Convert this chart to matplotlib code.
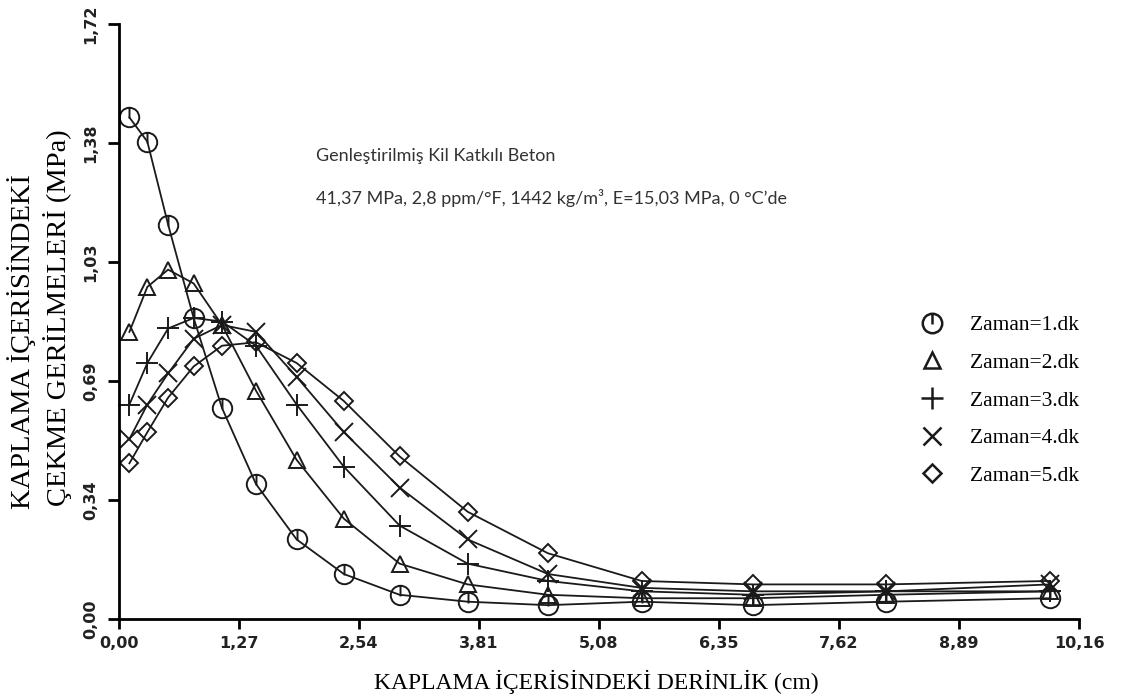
import numpy as np
import matplotlib
matplotlib.use('Agg')
import matplotlib.pyplot as plt
from matplotlib.path import Path
from matplotlib.lines import Line2D


# depth in the coating (cm), shared by all curves
depth = [0.11, 0.30, 0.52, 0.79, 1.09, 1.45, 1.88, 2.38, 2.97, 3.69, 4.54, 5.53, 6.71, 8.12, 9.85]

# tensile stress (MPa) per time step
t1 = [1.45, 1.38, 1.14, 0.87, 0.61, 0.39, 0.23, 0.13, 0.07, 0.05, 0.04, 0.05, 0.04, 0.05, 0.06]
t2 = [0.83, 0.96, 1.01, 0.97, 0.85, 0.66, 0.46, 0.29, 0.16, 0.10, 0.07, 0.06, 0.06, 0.07, 0.08]
t3 = [0.62, 0.74, 0.84, 0.87, 0.86, 0.79, 0.62, 0.44, 0.27, 0.16, 0.11, 0.08, 0.07, 0.08, 0.08]
t4 = [0.52, 0.62, 0.71, 0.81, 0.85, 0.83, 0.70, 0.54, 0.38, 0.23, 0.13, 0.09, 0.08, 0.08, 0.10]
t5 = [0.45, 0.54, 0.64, 0.73, 0.79, 0.80, 0.74, 0.63, 0.47, 0.31, 0.19, 0.11, 0.10, 0.10, 0.11]

labels = ['Zaman=1.dk', 'Zaman=2.dk', 'Zaman=3.dk', 'Zaman=4.dk', 'Zaman=5.dk']

x_ticks = [0, 1.27, 2.54, 3.81, 5.08, 6.35, 7.62, 8.89, 10.16]
x_ticklabels = ['0,00', '1,27', '2,54', '3,81', '5,08', '6,35', '7,62', '8,89', '10,16']
y_ticks = [0, 0.344, 0.688, 1.032, 1.376, 1.72]
y_ticklabels = ['0,00', '0,34', '0,69', '1,03', '1,38', '1,72']


def circle_marker():
    # circle with a short vertical stroke, like the scanned symbol
    circ = Path.unit_circle()
    stroke = Path([(0, 1), (0, -0.1)], [Path.MOVETO, Path.LINETO])
    return Path.make_compound_path(circ, stroke)


def main():
    fig = plt.figure(figsize=(11.3, 6.97), dpi=100)
    ax = fig.add_axes([119 / 1130, 1 - 619 / 697, 960 / 1130, 595 / 697])

    styles = [
        dict(marker=circle_marker(), ms=14),
        dict(marker='^', ms=12),
        dict(marker='+', ms=16),
        dict(marker='x', ms=13),
        dict(marker='D', ms=9),
    ]
    series = [t1, t2, t3, t4, t5]
    for ys, st in zip(series, styles):
        ax.plot(depth, ys, color='#1a1a1a', lw=1.3, mfc='none', mec='#1a1a1a',
                mew=1.4, clip_on=False, **st)

    ax.set_xlim(0, 10.16)
    ax.set_ylim(0, 1.72)
    for side in ['top', 'right']:
        ax.spines[side].set_visible(False)
    for side in ['left', 'bottom']:
        ax.spines[side].set_linewidth(2)

    ax.set_xticks(x_ticks)
    ax.set_xticklabels(x_ticklabels, fontsize=11.5, fontweight='bold', color='#222222')
    ax.set_yticks(y_ticks)
    ax.set_yticklabels(y_ticklabels, fontsize=11.5, fontweight='bold', color='#222222',
                       rotation=90, va='center')
    ax.tick_params(axis='x', direction='out', length=7, width=2, pad=5)
    ax.tick_params(axis='y', direction='out', length=8, width=2, pad=7)

    fig.text(596 / 1130, 1 - 682 / 697, 'KAPLAMA İÇERİSİNDEKİ DERİNLİK (cm)',
             family='Liberation Serif', fontsize=17, ha='center', va='center')
    fig.text(22 / 1130, 1 - 342 / 697, 'KAPLAMA İÇERİSİNDEKİ',
             family='Liberation Serif', fontsize=20.5, rotation=90, ha='center', va='center')
    fig.text(58 / 1130, 1 - 318 / 697, 'ÇEKME GERİLMELERİ (MPa)',
             family='Liberation Serif', fontsize=20.5, rotation=90, ha='center', va='center')

    fig.text(316 / 1130, 1 - 156 / 697, 'Genleştirilmiş Kil Katkılı Beton',
             family='Lato', fontsize=13, color='#333333', va='center')
    fig.text(316 / 1130, 1 - 198 / 697,
             '41,37 MPa, 2,8 ppm/°F, 1442 kg/m³, E=15,03 MPa, 0 °C’de',
             family='Lato', fontsize=13, color='#333333', va='center')

    handles = [Line2D([], [], linestyle='none', color='#1a1a1a', mfc='none',
                      mec='#1a1a1a', mew=1.8, **st) for st in styles]
    fig.legend(handles, labels, loc='upper left', bbox_to_anchor=(921 / 1130, 1 - 315 / 697),
               frameon=False, prop={'family': 'Liberation Serif', 'size': 15.5},
               handlelength=1.0, handletextpad=1.27, labelspacing=0.82,
               borderpad=0, borderaxespad=0)

    fig.savefig('out.png', dpi=100, facecolor='white')


if __name__ == '__main__':
    main()
